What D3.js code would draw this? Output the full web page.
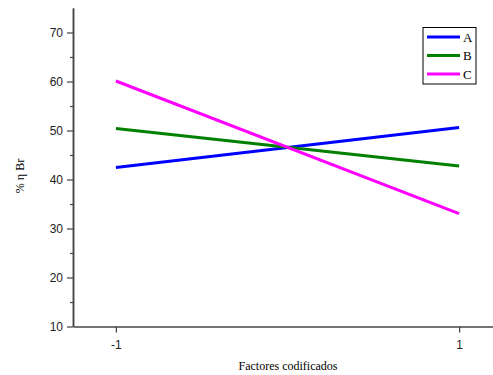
<!DOCTYPE html>
<html><head><meta charset="utf-8">
<script src="https://cdn.jsdelivr.net/npm/d3@7"></script>
<style>body{margin:0;background:#fff}</style>
</head><body>
<svg id="c" width="493" height="375"></svg>
<script>
const xValues = [-1, 1];
const seriesNames = ["A", "B", "C"];
const seriesA = [42.45, 50.6];
const seriesB = [50.4, 42.75];
const seriesC = [60.1, 33.05];
const colors = ["#0000ff", "#008000", "#ff00ff"];
const yTicks = [10, 20, 30, 40, 50, 60, 70];
const yMinorTicks = [15, 25, 35, 45, 55, 65];
const xTicks = [-1, 1];
const xTickLabels = ["-1", "1"];

const svg = d3.select("#c");
const x = d3.scaleLinear().domain([-1.25, 1.25]).range([73, 502]);
const y = d3.scaleLinear().domain([10, 75]).range([326.5, 8]);

const axisColor = "#444";
// y axis
const gy = svg.append("g").attr("transform", "translate(73,0)");
gy.call(d3.axisLeft(y).tickValues(yTicks).tickSize(6).tickSizeOuter(0).tickPadding(4).tickFormat(d => String(d)));
gy.append("g").call(d3.axisLeft(y).tickValues(yMinorTicks).tickSize(3).tickSizeOuter(0).tickFormat(""));
// x axis
const gx = svg.append("g").attr("transform", "translate(0,326.5)");
gx.call(d3.axisBottom(x).tickValues(xTicks).tickSize(6).tickSizeOuter(0).tickPadding(8)
  .tickFormat((d, i) => xTickLabels[i]));

svg.selectAll(".domain").attr("stroke", axisColor).attr("stroke-width", 1.5);
svg.selectAll(".tick line").attr("stroke", axisColor).attr("stroke-width", 1.2);
svg.selectAll(".tick text").attr("fill", "#222").style("font-family", "'Liberation Sans', Arial, sans-serif").style("font-size", "12px");

const data = [seriesA, seriesB, seriesC];
const line = d3.line().x((d, i) => x(xValues[i])).y(d => y(d));
svg.append("g").selectAll("path").data(data).join("path")
  .attr("d", line).attr("fill", "none")
  .attr("stroke", (d, i) => colors[i]).attr("stroke-width", 3);

// axis titles
svg.append("text").attr("x", 288).attr("y", 370).attr("text-anchor", "middle")
  .style("font-family", "'Liberation Serif', 'Times New Roman', serif").style("font-size", "12px")
  .text("Factores codificados");
svg.append("text").attr("transform", "translate(24,176) rotate(-90)").attr("text-anchor", "middle")
  .style("font-family", "'Liberation Serif', 'Times New Roman', serif").style("font-size", "12px")
  .text("% η  Br");

// legend
const lg = svg.append("g");
lg.append("rect").attr("x", 423).attr("y", 27.5).attr("width", 53).attr("height", 56.5)
  .attr("fill", "#fff").attr("stroke", "#000").attr("stroke-width", 1);
seriesNames.forEach((n, i) => {
  const yy = 37 + i * 18.5;
  lg.append("line").attr("x1", 427).attr("x2", 460).attr("y1", yy).attr("y2", yy)
    .attr("stroke", colors[i]).attr("stroke-width", 3);
  lg.append("text").attr("x", 463).attr("y", yy + 4.5)
    .style("font-family", "'Liberation Serif', 'Times New Roman', serif").style("font-size", "13px")
    .text(n);
});
</script>
</body></html>
